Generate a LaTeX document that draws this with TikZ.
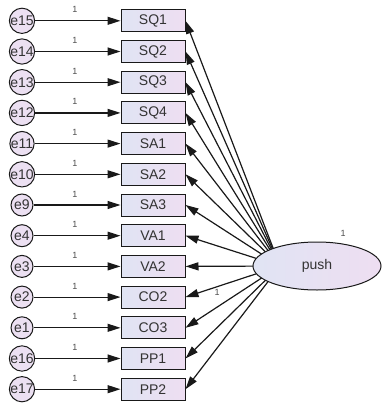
\documentclass[tikz,border=0pt]{standalone}
\usepackage{fontspec}
\setmainfont{Liberation Sans}
\usetikzlibrary{arrows.meta,shapes.geometric}
\pgfdeclarelayer{bg}
\pgfsetlayers{bg,main}
\definecolor{boxL}{RGB}{224,228,243}
\definecolor{boxR}{RGB}{238,222,242}
\definecolor{errfill}{RGB}{236,224,242}
\definecolor{linec}{RGB}{25,25,25}
\tikzset{
  obs/.style={draw=linec, line width=1pt, minimum width=64pt, minimum height=22pt, inner sep=0pt,
    left color=boxL, right color=boxR, font=\fontsize{14}{14}\selectfont, text=black!80},
  err/.style={circle, draw=linec, line width=1pt, minimum size=22pt, inner sep=0pt, fill=errfill,
    font=\fontsize{14}{14}\selectfont, text=black!80},
  lat/.style={ellipse, draw=linec, line width=1pt, minimum width=128pt, minimum height=48pt, inner sep=0pt,
    left color=boxL, right color=boxR, font=\fontsize{14}{14}\selectfont, text=black!80},
  arr/.style={draw=linec, line width=1.2pt, -{Triangle[length=13pt,width=8pt]}},
  one/.style={font=\fontsize{9}{9}\selectfont, text=black!70, inner sep=0pt}
}
\begin{document}
\begin{tikzpicture}[x=1pt,y=-1pt]
\useasboundingbox (0,0) rectangle (381,404);
\node[lat] (push) at (317,266) {push};
\coordinate (src) at (280,266);
\node[one] at (343,233) {1};
\foreach \name/\e [count=\i from 0] in {SQ1/e15,SQ2/e14,SQ3/e13,SQ4/e12,SA1/e11,SA2/e10,SA3/e9,VA1/e4,VA2/e3,CO2/e2,CO3/e1,PP1/e16,PP2/e17}{
  \pgfmathsetmacro{\yy}{20.8+30.7*\i}
  \node[obs] (\name) at (153,\yy) {\name};
  \node[err] (\e) at (22,\yy) {\e};
  \draw[arr] (\e) -- (\name);
  \node[one] at (75,\yy-11) {1};
  \begin{pgfonlayer}{bg}
  \draw[arr] (src) -- (\name.east);
  \end{pgfonlayer}
}
\node[one] at (217,292) {1};
\end{tikzpicture}
\end{document}
